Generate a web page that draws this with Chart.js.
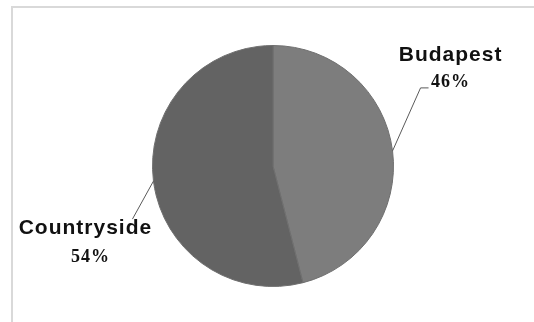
<!DOCTYPE html>
<html>
<head>
<meta charset="utf-8">
<script src="https://cdn.jsdelivr.net/npm/chart.js@4/dist/chart.umd.min.js"></script>
<style>
  html, body { margin: 0; padding: 0; background: #fff; }
  #wrap { position: relative; width: 534px; height: 322px; }
  #frame {
    position: absolute; left: 11px; top: 6px; right: 0; bottom: 0;
    border-top: 2px solid #d9d9d9; border-left: 2px solid #d9d9d9;
  }
  canvas { position: absolute; left: 0; top: 0; }
</style>
</head>
<body>
<div id="wrap">
  <div id="frame"></div>
  <canvas id="pie" width="534" height="322"></canvas>
</div>
<script>
// regiões e participação (%)
const regions = ['Budapest', 'Countryside'];
const shares = [46, 54];
const sliceColors = ['#7d7d7d', '#636363'];

// posição dos rótulos em relação ao ponto da borda (ângulo médio da fatia)
const labelLayout = [
  { elbow: [28, -63], tail: 8, name: [58, -96], pct: [58, -69] },
  { elbow: [-21, 38], tail: 0, name: [-68, 47], pct: [-63, 76] }
];

const calloutLabels = {
  id: 'calloutLabels',
  afterDatasetsDraw(chart) {
    const ctx = chart.ctx;
    const meta = chart.getDatasetMeta(0);
    const total = shares.reduce((a, b) => a + b, 0);
    meta.data.forEach((arc, i) => {
      const mid = (arc.startAngle + arc.endAngle) / 2;
      const ex = arc.x + arc.outerRadius * Math.cos(mid);
      const ey = arc.y + arc.outerRadius * Math.sin(mid);
      const lay = labelLayout[i];
      const bx = ex + lay.elbow[0], by = ey + lay.elbow[1];

      ctx.save();
      ctx.strokeStyle = '#5a5a5a';
      ctx.lineWidth = 1;
      ctx.beginPath();
      ctx.moveTo(ex, ey);
      ctx.lineTo(bx, by);
      if (lay.tail) ctx.lineTo(bx + lay.tail, by);
      ctx.stroke();

      ctx.fillStyle = '#111';
      ctx.textAlign = 'center';
      ctx.textBaseline = 'middle';
      ctx.letterSpacing = '1px';
      ctx.font = 'bold 21px "Liberation Sans", Arial, sans-serif';
      ctx.fillText(regions[i], ex + lay.name[0], ey + lay.name[1]);
      ctx.font = 'bold 18px "Liberation Serif", "Times New Roman", serif';
      const pct = Math.round(shares[i] / total * 100) + '%';
      ctx.fillText(pct, ex + lay.pct[0], ey + lay.pct[1]);
      ctx.restore();
    });
  }
};

new Chart(document.getElementById('pie'), {
  type: 'pie',
  data: {
    labels: regions,
    datasets: [{
      data: shares,
      backgroundColor: sliceColors,
      borderColor: '#6f6f6f',
      borderWidth: 1
    }]
  },
  options: {
    responsive: false,
    animation: false,
    layout: { padding: { left: 152, right: 140, top: 45, bottom: 35 } },
    plugins: {
      legend: { display: false },
      tooltip: { enabled: false }
    }
  },
  plugins: [calloutLabels]
});
</script>
</body>
</html>
